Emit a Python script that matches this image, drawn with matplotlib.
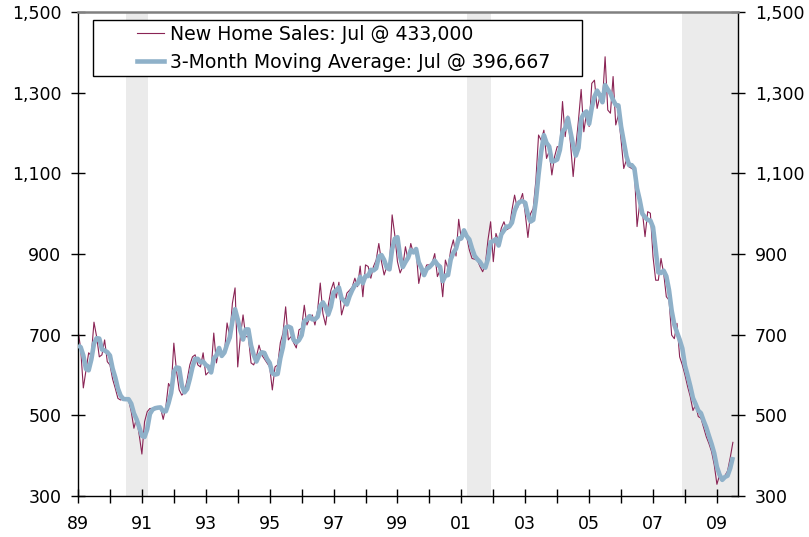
import numpy as np
import pandas as pd
import matplotlib
matplotlib.use("Agg")
import matplotlib.pyplot as plt
from matplotlib.patches import Rectangle
from matplotlib.lines import Line2D
from matplotlib.ticker import FuncFormatter

# ---------------- data (thousands of units, SAAR) ----------------
prior_1988 = [680, 630]  # Nov, Dec 1988 - only used for the moving average
sales_1989 = [712, 665, 568, 612, 655, 648, 731, 695, 645, 650, 687, 633]
sales_1990 = [625, 590, 567, 542, 538, 542, 540, 538, 509, 468, 493, 451]
sales_1991 = [404, 484, 509, 517, 517, 519, 521, 519, 490, 521, 579, 567]
sales_1992 = [679, 610, 563, 550, 558, 588, 625, 645, 650, 625, 620, 655]
sales_1993 = [600, 607, 612, 704, 630, 667, 645, 655, 729, 695, 778, 816]
sales_1994 = [620, 695, 749, 695, 695, 630, 625, 645, 674, 650, 640, 630]
sales_1995 = [620, 563, 620, 625, 680, 704, 769, 687, 695, 680, 667, 712]
sales_1996 = [716, 773, 724, 741, 749, 724, 760, 828, 752, 724, 773, 810]
sales_1997 = [830, 791, 830, 749, 773, 803, 810, 818, 840, 819, 870, 794]
sales_1998 = [873, 869, 840, 869, 885, 926, 881, 848, 869, 869, 997, 947]
sales_1999 = [881, 853, 869, 918, 885, 926, 901, 910, 827, 860, 856, 873]
sales_2000 = [873, 877, 901, 844, 860, 794, 885, 864, 910, 935, 895, 986]
sales_2001 = [935, 955, 943, 910, 889, 887, 885, 869, 856, 873, 935, 980]
sales_2002 = [881, 951, 931, 964, 980, 960, 964, 1009, 1046, 1013, 1030, 1050]
sales_2003 = [1000, 941, 1000, 1013, 1083, 1195, 1182, 1207, 1137, 1155, 1096, 1141]
sales_2004 = [1166, 1166, 1278, 1191, 1242, 1174, 1092, 1166, 1232, 1308, 1203, 1249]
sales_2005 = [1216, 1323, 1331, 1261, 1290, 1278, 1389, 1257, 1249, 1340, 1220, 1245]
sales_2006 = [1183, 1112, 1133, 1116, 1112, 1108, 968, 1026, 1005, 943, 1005, 1001]
sales_2007 = [893, 835, 835, 889, 852, 794, 786, 699, 690, 728, 645, 625]
sales_2008 = [600, 571, 546, 512, 526, 497, 493, 470, 447, 430, 410, 377]
sales_2009 = [329, 352, 339, 350, 362, 395, 433]

recession_start = [1990.5, 2001.17, 2007.92]
recession_end = [1991.2, 2001.92, 2009.66]

y_ticks = [300, 500, 700, 900, 1100, 1300, 1500]
x_major = list(range(1989, 2010, 2))
x_minor = list(range(1990, 2010, 2))

all_years = [sales_1989, sales_1990, sales_1991, sales_1992, sales_1993, sales_1994,
             sales_1995, sales_1996, sales_1997, sales_1998, sales_1999, sales_2000,
             sales_2001, sales_2002, sales_2003, sales_2004, sales_2005, sales_2006,
             sales_2007, sales_2008, sales_2009]
sales = np.array(sum(all_years, []), dtype=float)
t = 1989 + np.arange(len(sales)) / 12.0
ma = pd.Series(np.concatenate([prior_1988, sales])).rolling(3).mean().to_numpy()[2:]

# ---------------- figure ----------------
W, H = 809, 537
fig = plt.figure(figsize=(W / 100, H / 100), dpi=100)
L, R, T, B = 78, 738, 12, 496
ax = fig.add_axes([L / W, 1 - B / H, (R - L) / W, (B - T) / H])

for s, e in zip(recession_start, recession_end):
    ax.axvspan(s, e, color="#EBEBEB", lw=0, zorder=0)

red = "#8A2455"
blue = "#8FB1C9"
ax.plot(t, sales, color=red, lw=0.8, zorder=2)
ax.plot(t, ma, color=blue, lw=3.3, zorder=3, solid_capstyle="butt")

ax.set_xlim(1989, 2009.66)
ax.set_ylim(300, 1500)

ax.set_yticks(y_ticks)
ax.yaxis.set_major_formatter(FuncFormatter(lambda v, p: f"{int(v):,}"))
ax.set_xticks(x_major)
ax.set_xticklabels([f"{y % 100:02d}" for y in x_major])
ax.set_xticks(x_minor, minor=True)

ax.tick_params(axis="x", which="both", direction="inout", length=10, width=1,
               pad=9, labelsize=12.5, colors="black")
ax.tick_params(axis="y", which="both", direction="inout", length=10, width=1,
               left=True, right=True, labelleft=True, labelright=True,
               pad=7, labelsize=12.5)

for side in ["left", "right", "bottom"]:
    ax.spines[side].set_color("black")
    ax.spines[side].set_linewidth(1.0)
ax.spines["top"].set_color("#808080")
ax.spines["top"].set_linewidth(1.8)

# ---------------- legend ----------------
def ax_x(px):
    return (px - L) / (R - L)

def ax_y(py):
    return (B - py) / (B - T)

box = Rectangle((ax_x(93), ax_y(76)), ax_x(582) - ax_x(93), ax_y(20) - ax_y(76),
                transform=ax.transAxes, facecolor="white", edgecolor="black",
                lw=1.0, zorder=4.5, clip_on=False)
ax.add_patch(box)

lab1 = f"New Home Sales: Jul @ {int(sales[-1] * 1000):,}"
lab2 = f"3-Month Moving Average: Jul @ {ma[-1] * 1000:,.0f}"
handles = [Line2D([], [], color=red, lw=0.8), Line2D([], [], color=blue, lw=3.3)]
leg = ax.legend(handles, [lab1, lab2], loc="upper left",
                bbox_to_anchor=(ax_x(137), ax_y(25)), frameon=False,
                borderpad=0, borderaxespad=0, handlelength=1.45,
                handletextpad=0.32, labelspacing=0.45, fontsize=13.6)
leg.set_zorder(6)

fig.savefig("out.png", dpi=100)
